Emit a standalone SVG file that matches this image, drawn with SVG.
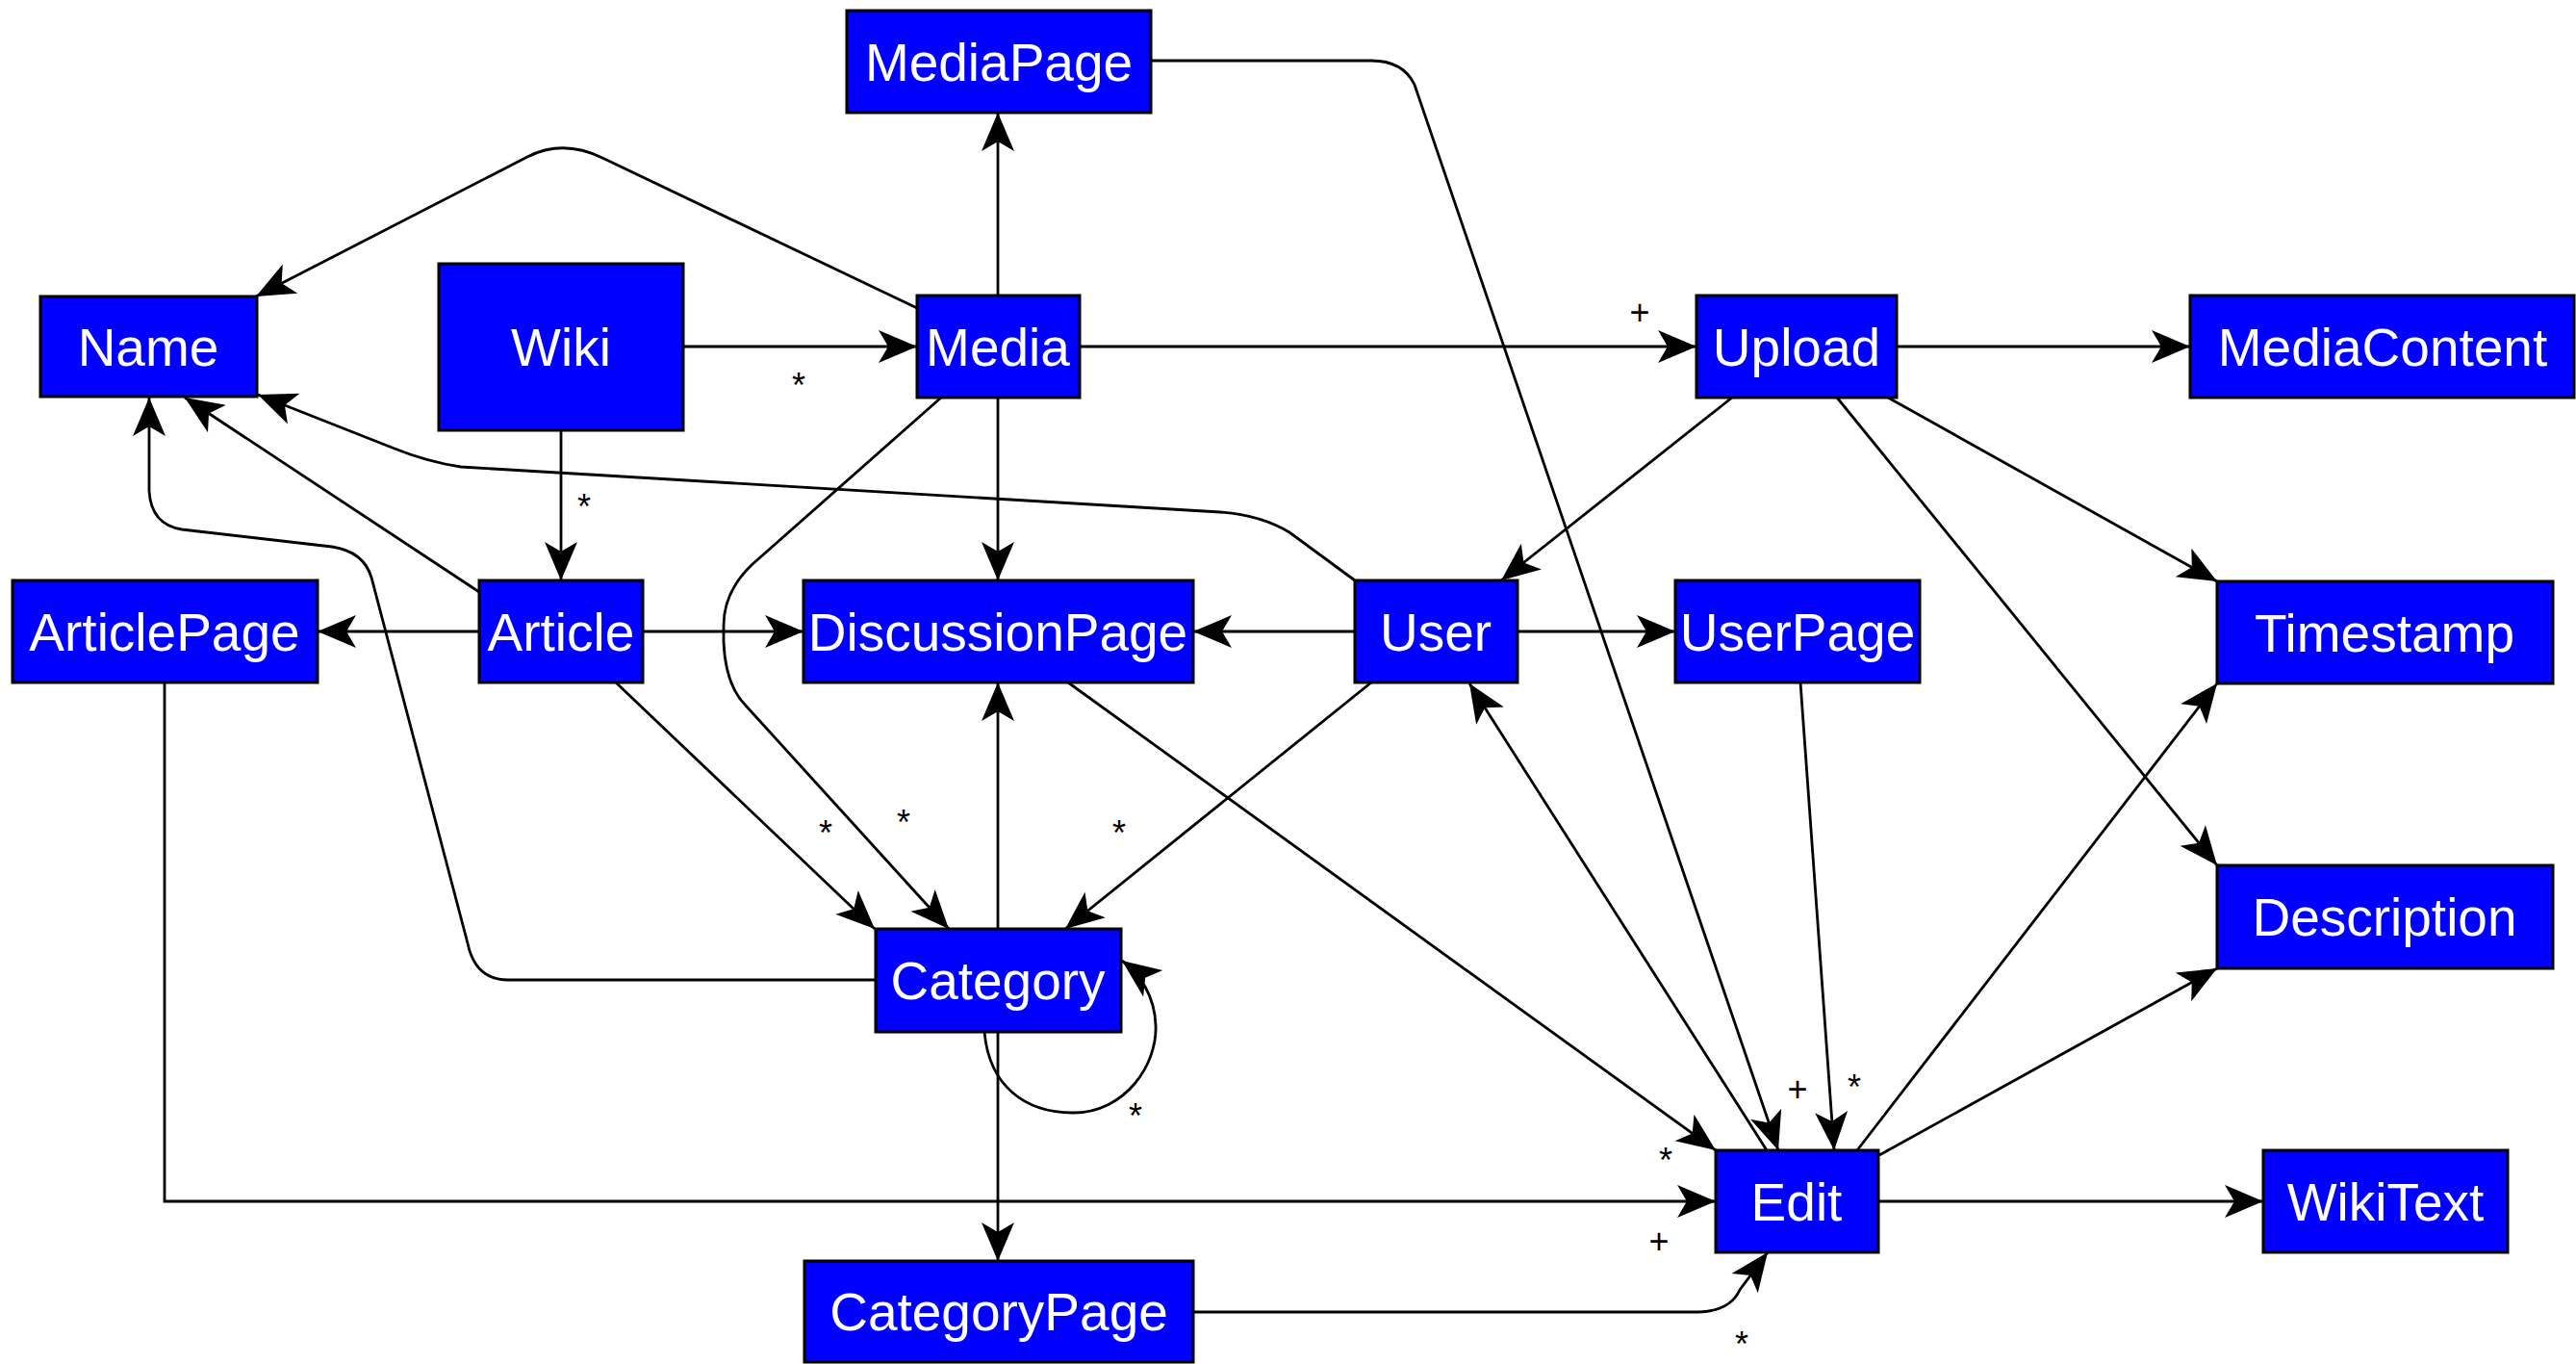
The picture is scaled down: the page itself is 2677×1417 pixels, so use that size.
<svg xmlns="http://www.w3.org/2000/svg" width="2677" height="1417" viewBox="0 0 2677 1417">
<style>
.n rect{fill:#0000FF;stroke:#000;stroke-width:3}
.n text{fill:#fff;font-family:"Liberation Sans",Arial,sans-serif;font-size:55px;text-anchor:middle}
.e path{fill:none;stroke:#000;stroke-width:2.8;marker-end:url(#ah)}
.lbl{fill:#000;font-family:"Liberation Sans",Arial,sans-serif;font-size:36px;text-anchor:middle}
</style>
<defs>
<marker id="ah" markerUnits="userSpaceOnUse" orient="auto" refX="0" refY="0" markerWidth="50" markerHeight="50" overflow="visible">
<path d="M0,0 L-40,-17 L-30,0 L-40,17 Z" fill="#000"/>
</marker>
</defs>
<rect width="2677" height="1417" fill="#fff"/>
<g class="e" id="connectors">
<path d="M 710 360 L 953 360"/>
<path d="M 583 447 L 583 603"/>
<path d="M 1037 307 L 1037 117"/>
<path d="M 953 320 L 626 164 Q 585 144 548 163 L 266 308"/>
<path d="M 1122 360 L 1763 360"/>
<path d="M 1037 413 L 1037 603"/>
<path d="M 978 413 L 781 587 Q 752 615 752 650 L 752 667 Q 754 712 775 733 L 986 965"/>
<path d="M 498 656 L 330 656"/>
<path d="M 668 656 L 835 656"/>
<path d="M 498 615 L 192 413"/>
<path d="M 1408 603 L 1340 553 Q 1310 535 1268 532 L 479 485 Q 445 480 410 466 L 268 410"/>
<path d="M 910 1018 L 528 1018 Q 494 1018 486 980 L 386 600 Q 378 573 345 568 L 189 550 Q 157 545 155 510 L 155 413"/>
<path d="M 1110 709 L 1783 1195"/>
<path d="M 1037 965 L 1037 709"/>
<path d="M 1037 1072 L 1037 1310"/>
<path d="M 1023 1072 C 1028 1128 1065 1156 1115 1156 C 1170 1156 1203 1105 1201 1065 C 1200 1035 1185 1012 1166 998"/>
<path d="M 1240 1363 L 1765 1363 Q 1798 1362 1808 1340 L 1837 1301"/>
<path d="M 171 709 L 171 1248 L 1783 1248"/>
<path d="M 1196 63 L 1425 63 Q 1458 63 1470 88 L 1848 1195"/>
<path d="M 1836 1195 L 1527 710"/>
<path d="M 1871 709 L 1906 1195"/>
<path d="M 1577 656 L 1741 656"/>
<path d="M 1408 656 L 1240 656"/>
<path d="M 1425 709 L 1107 965"/>
<path d="M 1800 413 L 1560 603"/>
<path d="M 1971 360 L 2276 360"/>
<path d="M 1962 413 L 2304 604"/>
<path d="M 1909 413 L 2304 899"/>
<path d="M 1930 1195 L 2304 710"/>
<path d="M 1953 1200 L 2304 1006"/>
<path d="M 1952 1248 L 2352 1248"/>
<path d="M 640 709 L 909 965"/>
</g>
<g id="labels">
<text class="lbl" x="830" y="413">*</text>
<text class="lbl" x="607" y="539">*</text>
<text class="lbl" x="1704" y="337">+</text>
<text class="lbl" x="858" y="878">*</text>
<text class="lbl" x="939" y="867">*</text>
<text class="lbl" x="1163" y="878">*</text>
<text class="lbl" x="1180" y="1172">*</text>
<text class="lbl" x="1731" y="1218">*</text>
<text class="lbl" x="1724" y="1302">+</text>
<text class="lbl" x="1810" y="1409">*</text>
<text class="lbl" x="1868" y="1144">+</text>
<text class="lbl" x="1927" y="1142">*</text>
</g>
<g class="n" id="MediaPage"><rect x="880" y="11" width="316" height="106"/><text x="1038" y="84">MediaPage</text></g>
<g class="n" id="Name"><rect x="42" y="308" width="225" height="104"/><text x="154" y="380">Name</text></g>
<g class="n" id="Wiki"><rect x="456" y="274" width="254" height="173"/><text x="583" y="380">Wiki</text></g>
<g class="n" id="Media"><rect x="953" y="307" width="169" height="106"/><text x="1037" y="380">Media</text></g>
<g class="n" id="Upload"><rect x="1763" y="307" width="208" height="106"/><text x="1867" y="380">Upload</text></g>
<g class="n" id="MediaContent"><rect x="2276" y="307" width="399" height="106"/><text x="2476" y="380">MediaContent</text></g>
<g class="n" id="ArticlePage"><rect x="13" y="603" width="317" height="106"/><text x="171" y="676">ArticlePage</text></g>
<g class="n" id="Article"><rect x="498" y="603" width="170" height="106"/><text x="583" y="676">Article</text></g>
<g class="n" id="DiscussionPage"><rect x="835" y="603" width="405" height="106"/><text x="1037" y="676">DiscussionPage</text></g>
<g class="n" id="User"><rect x="1408" y="603" width="169" height="106"/><text x="1492" y="676">User</text></g>
<g class="n" id="UserPage"><rect x="1741" y="603" width="254" height="106"/><text x="1868" y="676">UserPage</text></g>
<g class="n" id="Timestamp"><rect x="2304" y="604" width="349" height="106"/><text x="2478" y="677">Timestamp</text></g>
<g class="n" id="Description"><rect x="2304" y="899" width="349" height="107"/><text x="2478" y="972">Description</text></g>
<g class="n" id="Category"><rect x="910" y="965" width="255" height="107"/><text x="1037" y="1038">Category</text></g>
<g class="n" id="CategoryPage"><rect x="836" y="1310" width="404" height="105"/><text x="1038" y="1382">CategoryPage</text></g>
<g class="n" id="Edit"><rect x="1783" y="1195" width="169" height="106"/><text x="1867" y="1268">Edit</text></g>
<g class="n" id="WikiText"><rect x="2352" y="1195" width="254" height="106"/><text x="2479" y="1268">WikiText</text></g>
</svg>
